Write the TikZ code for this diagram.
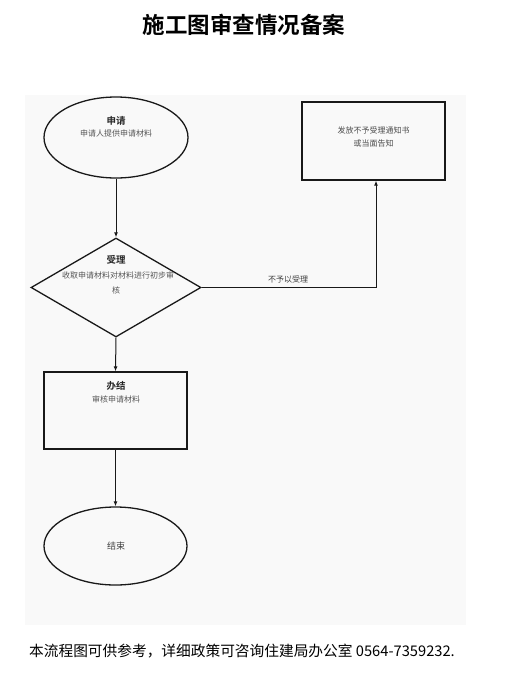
\documentclass[tikz,border=0pt]{standalone}
\usepackage{fontspec}
\newfontfamily\cjk{Noto Sans CJK SC}
\newfontfamily\cjkb{Noto Sans CJK SC Bold}
\usetikzlibrary{shapes.geometric,arrows.meta}
\definecolor{panel}{HTML}{F9F9F9}
\definecolor{txtgray}{HTML}{555555}
\begin{document}
\begin{tikzpicture}[x=1pt,y=-1pt,
  shapeline/.style={draw=black!90,line width=1.3pt,fill=panel,inner sep=0pt},
  conn/.style={draw=black!90,line width=1pt},
  arr/.style={conn,-{Latex[length=5pt,width=4pt]}},
  head/.style={font=\cjkb\fontsize{9.5}{11}\selectfont,text=black!85,inner sep=0pt},
  small/.style={font=\cjk\fontsize{8}{10}\selectfont,text=txtgray,inner sep=0pt,align=center}]
\useasboundingbox (0,0) rectangle (523,675);
\fill[white] (0,0) rectangle (523,675);
\fill[panel] (25,95) rectangle (466,625);
% title
\node[font=\cjkb\fontsize{22.5}{26}\selectfont,inner sep=0pt] (title) at (244,25) {施工图审查情况备案};
% shapes
\node[shapeline,ellipse,minimum width=144pt,minimum height=81pt] (apply) at (116,137.5) {};
\node[shapeline,diamond,minimum width=170pt,minimum height=99pt] (accept) at (116,287.5) {};
\node[shapeline,rectangle,minimum width=143pt,minimum height=78pt] (notice) at (373.5,141) {};
\node[shapeline,rectangle,minimum width=143pt,minimum height=77pt] (finish) at (115.5,410.5) {};
\node[shapeline,ellipse,minimum width=143pt,minimum height=78pt] (end) at (115.5,546) {};
% texts
\node[head] (t1) at (116,121) {申请};
\node[small] (t1b) at (116,133) {申请人提供申请材料};
\node[head] (t2) at (116,260) {受理};
\node[small] (t2b) at (118,275) {收取申请材料对材料进行初步审};
\node[small] (t2c) at (116,290) {核};
\node[small,text=black!70] (t3) at (373.5,130) {发放不予受理通知书};
\node[small,text=black!70] (t3b) at (373.5,143) {或当面告知};
\node[head] (t4) at (116,386) {办结};
\node[small] (t4b) at (116,399) {审核申请材料};
\node[small,text=black!75,font=\cjk\fontsize{9}{11}\selectfont] (t5) at (116,546) {结束};
% connectors
\coordinate (corner) at (376,287.5);
\draw[arr] (apply.south) -- (accept.north);
\draw[arr] (accept.south) -- (finish.north);
\draw[arr] (finish.south) -- (end.north);
\draw[arr] (accept.east) -- (corner) -- (notice.south -| corner);
\node[small,text=black!75] (lbl) at (288,279) {不予以受理};
% footer
\node[font=\cjk\fontsize{14.7}{16}\selectfont,anchor=west,inner sep=0pt] (foot) at (29,651) {本流程图可供参考，详细政策可咨询住建局办公室 0564-7359232.};
\end{tikzpicture}
\end{document}
